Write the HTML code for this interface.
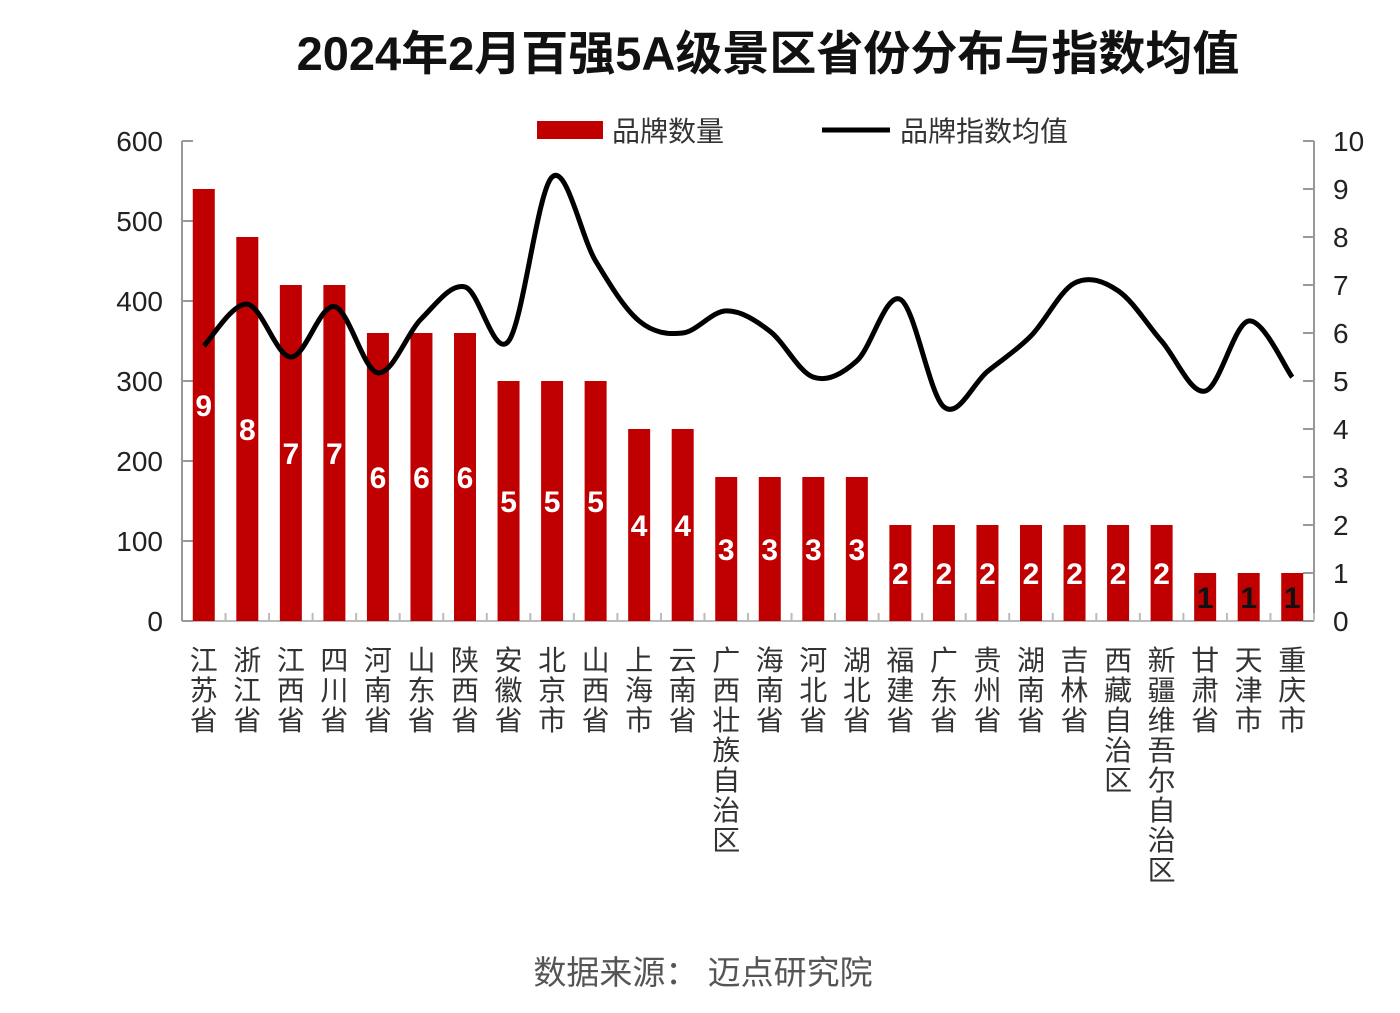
<!DOCTYPE html>
<html><head><meta charset="utf-8"><style>
body{margin:0;background:#fff;}
svg text{font-family:"Liberation Sans","Noto Sans CJK SC",sans-serif;}
</style></head><body>
<svg id="s" width="1400" height="1008" xmlns="http://www.w3.org/2000/svg">
<text x="768" y="70" font-size="47" font-weight="bold" text-anchor="middle" fill="#111">2024年2月百强5A级景区省份分布与指数均值</text>
<rect x="537" y="121" width="66" height="18" fill="#c00000"/>
<text x="612" y="141" font-size="28" fill="#333">品牌数量</text>
<line x1="822" y1="130" x2="890" y2="130" stroke="#000" stroke-width="5"/>
<text x="900" y="141" font-size="28" fill="#333">品牌指数均值</text>
<g id="g"></g>
<text x="703" y="984" font-size="33" text-anchor="middle" fill="#555">数据来源：  迈点研究院</text>
</svg>
<script>
var g=document.getElementById('g'),h='';
var cats=['江苏省','浙江省','江西省','四川省','河南省','山东省','陕西省','安徽省','北京市','山西省','上海市','云南省','广西壮族自治区','海南省','河北省','湖北省','福建省','广东省','贵州省','湖南省','吉林省','西藏自治区','新疆维吾尔自治区','甘肃省','天津市','重庆市'];
var cnt=[9,8,7,7,6,6,6,5,5,5,4,4,3,3,3,3,2,2,2,2,2,2,2,1,1,1];
var idx=[5.73,6.6,5.5,6.55,5.17,6.3,6.96,5.83,9.25,7.5,6.25,6.0,6.46,6.04,5.08,5.42,6.7,4.46,5.2,5.94,7.04,6.88,5.83,4.79,6.25,5.08];
var x0=182,x1=1314,base=621,ytop=141,step=(x1-x0)/26;
h+='<line x1="'+x0+'" y1="'+ytop+'" x2="'+x0+'" y2="'+base+'" stroke="#999" stroke-width="2"/>';
h+='<line x1="'+x1+'" y1="'+ytop+'" x2="'+x1+'" y2="'+base+'" stroke="#999" stroke-width="2"/>';
h+='<line x1="'+x0+'" y1="'+base+'" x2="'+x1+'" y2="'+base+'" stroke="#bbb" stroke-width="2"/>';
for(var i=0;i<=6;i++){var y=base-i*80;h+='<line x1="'+x0+'" y1="'+y+'" x2="'+(x0+11)+'" y2="'+y+'" stroke="#999" stroke-width="2"/>';
h+='<text x="163" y="'+(y+10)+'" font-size="28" text-anchor="end" fill="#222">'+(i*100)+'</text>';}
for(var i=0;i<=10;i++){var y=base-i*48;h+='<line x1="'+(x1-11)+'" y1="'+y+'" x2="'+x1+'" y2="'+y+'" stroke="#999" stroke-width="2"/>';
h+='<text x="1333" y="'+(y+10)+'" font-size="28" fill="#222">'+i+'</text>';}
var pts=[];
for(var i=0;i<26;i++){var cx=x0+step*(i+0.5);var bh=cnt[i]*48;
h+='<rect x="'+(cx-11)+'" y="'+(base-bh)+'" width="22" height="'+bh+'" fill="#c00000"/>';
h+='<line x1="'+(x0+step*(i+1))+'" y1="'+base+'" x2="'+(x0+step*(i+1))+'" y2="'+(base-8)+'" stroke="#bbb" stroke-width="2"/>';
h+='<text x="'+cx+'" y="'+(base-bh/2+11)+'" font-size="30" font-weight="bold" text-anchor="middle" fill="'+(cnt[i]==1?'#111':'#fff')+'">'+cnt[i]+'</text>';
var c=cats[i];for(var j=0;j<c.length;j++)h+='<text x="'+cx+'" y="'+(670+j*30)+'" font-size="28" text-anchor="middle" fill="#333">'+c[j]+'</text>';
pts.push([cx,base-idx[i]*48]);}
var d='M'+pts[0][0]+','+pts[0][1];
for(var i=0;i<pts.length-1;i++){var p0=pts[Math.max(0,i-1)],p1=pts[i],p2=pts[i+1],p3=pts[Math.min(pts.length-1,i+2)];
d+=' C'+(p1[0]+(p2[0]-p0[0])/6)+','+(p1[1]+(p2[1]-p0[1])/6)+' '+(p2[0]-(p3[0]-p1[0])/6)+','+(p2[1]-(p3[1]-p1[1])/6)+' '+p2[0]+','+p2[1];}
h+='<path d="'+d+'" fill="none" stroke="#000" stroke-width="5"/>';
g.innerHTML=h;
</script>
</body></html>
